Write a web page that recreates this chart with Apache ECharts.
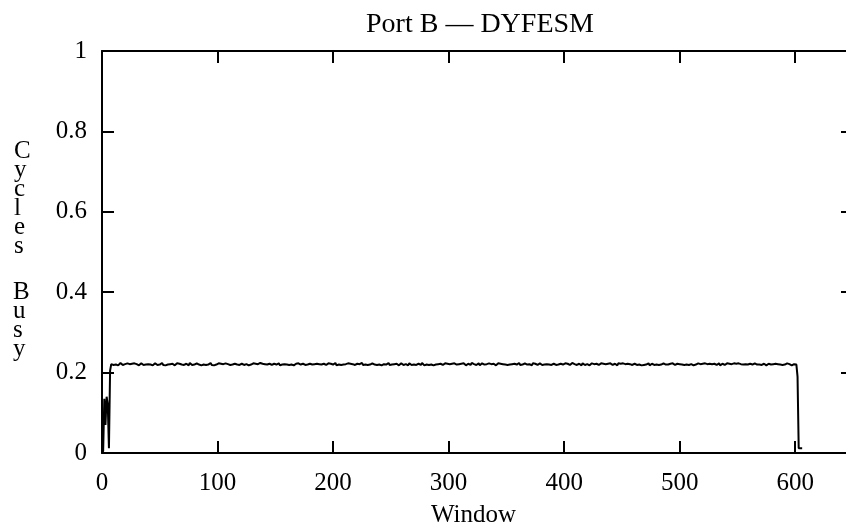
<!DOCTYPE html>
<html>
<head>
<meta charset="utf-8">
<script src="https://cdn.jsdelivr.net/npm/echarts@6/dist/echarts.min.js"></script>
<style>html,body{margin:0;padding:0;background:#fff;}#c{width:846px;height:529px;}</style>
</head>
<body>
<div id="c"></div>
<script>
// Chart text
const titleText = 'Port B \u2014 DYFESM';
const xName = 'Window';
const yNameTop = 'C\ny\nc\nl\ne\ns';
const yNameBottom = 'B\nu\ns\ny';
// Axis ranges / ticks
const xMin = 0, xMax = 650, xStep = 100;
const yMin = 0, yMax = 1, yStep = 0.2;
// First window number; each value below is one consecutive window
const firstWindow = 0;
// Fraction of cycles busy, window by window
const busy = [
0, 0.005, 0.135, 0.07, 0.14, 0.12, 0.012, 0.205, 0.221,
0.221,0.219,0.223,0.220,0.222,0.218,0.221,0.224,0.220,0.219,0.222,0.221,0.218,0.223,0.220,0.221,0.219,0.222,0.220,0.223,
0.219,0.221,0.222,0.218,0.220,0.223,0.221,0.219,0.222,0.220,0.224,0.221,0.219,0.220,0.222,0.218,0.221,0.223,0.220,0.219,
0.222,0.220,0.221,0.224,0.219,0.221,0.218,0.222,0.220,0.223,0.221,0.219,0.222,0.220,0.218,0.221,0.223,0.220,0.222,0.219,
0.220,0.223,0.219,0.221,0.222,0.220,0.218,0.224,0.221,0.219,0.222,0.220,0.221,0.223,0.219,0.220,0.222,0.218,0.221,0.220,
0.223,0.219,0.221,0.220,0.222,0.224,0.219,0.221,0.218,0.222,0.220,0.221,0.223,0.219,0.222,0.220,0.221,0.218,0.223,0.220,
0.221,0.222,0.219,0.223,0.220,0.218,0.222,0.221,0.220,0.224,0.219,0.221,0.222,0.220,0.219,0.223,0.221,0.220,0.218,0.222,
0.220,0.221,0.223,0.219,0.222,0.220,0.221,0.218,0.224,0.220,0.222,0.219,0.221,0.223,0.220,0.218,0.222,0.221,0.219,0.220,
0.222,0.219,0.220,0.221,0.223,0.218,0.222,0.220,0.219,0.221,0.224,0.220,0.222,0.219,0.221,0.220,0.223,0.218,0.221,0.222,
0.219,0.223,0.221,0.220,0.218,0.222,0.221,0.219,0.223,0.220,0.221,0.222,0.218,0.220,0.224,0.221,0.219,0.222,0.220,0.221,
0.223,0.220,0.218,0.222,0.221,0.219,0.220,0.223,0.221,0.222,0.219,0.220,0.221,0.224,0.218,0.222,0.220,0.221,0.219,0.223,
0.220,0.222,0.221,0.219,0.223,0.220,0.222,0.218,0.221,0.220,0.219,0.223,0.222,0.220,0.221,0.218,0.224,0.219,0.221,0.220,
0.221,0.219,0.222,0.220,0.218,0.223,0.221,0.220,0.222,0.219,0.221,0.220,0.223,0.218,0.222,0.221,0.219,0.220,0.222,0.224,
0.219,0.221,0.220,0.223,0.221,0.219,0.222,0.220,0.218,0.221,0.223,0.220,0.219,0.222,0.221,0.220,0.218,0.223,0.221,0.219,
0.222,0.220,0.223,0.219,0.221,0.222,0.220,0.219,0.224,0.221,0.218,0.222,0.220,0.221,0.219,0.223,0.220,0.222,0.218,0.221,
0.220,0.223,0.221,0.218,0.222,0.220,0.219,0.221,0.223,0.220,0.222,0.219,0.221,0.220,0.222,0.218,0.223,0.221,0.220,0.219,
0.221,0.220,0.222,0.219,0.223,0.221,0.218,0.220,0.222,0.221,0.219,0.224,0.220,0.221,0.222,0.219,0.220,0.223,0.218,0.221,
0.223,0.219,0.220,0.222,0.221,0.218,0.223,0.220,0.221,0.219,0.222,0.220,0.218,0.221,0.223,0.220,0.222,0.219,0.221,0.220,
0.220,0.222,0.219,0.221,0.220,0.223,0.221,0.219,0.222,0.218,0.220,0.221,0.224,0.219,0.222,0.220,0.221,0.223,0.219,0.220,
0.222,0.221,0.220,0.218,0.223,0.220,0.222,0.221,0.219,0.220,0.223,0.221,0.219,0.222,0.220,0.218,0.221,0.222,0.220,0.223,
0.219,0.220,0.222,0.221,0.219,0.223,0.220,0.218,0.222,0.221,0.220,0.219,0.223,0.221,0.222,0.220,0.219,0.221,0.224,0.220,
0.221,0.223,0.219,0.220,0.222,0.221,0.218,0.223,0.220,0.219,0.222,0.221,0.220,0.218,0.222,0.223,0.219,0.221,0.220,0.222,
0.220,0.219,0.221,0.223,0.220,0.222,0.219,0.221,0.218,0.222,0.220,0.223,0.221,0.219,0.220,0.222,0.221,0.218,0.223,0.220,
0.222,0.220,0.223,0.219,0.221,0.220,0.222,0.218,0.221,0.224,0.219,0.220,0.222,0.221,0.219,0.223,0.220,0.221,0.218,0.222,
0.219,0.222,0.220,0.221,0.223,0.218,0.220,0.222,0.221,0.219,0.223,0.220,0.222,0.219,0.221,0.220,0.218,0.223,0.221,0.220,
0.221,0.220,0.219,0.222,0.220,0.223,0.221,0.219,0.220,0.222,0.218,0.221,0.223,0.220,0.222,0.219,0.221,0.220,0.224,0.219,
0.223,0.221,0.220,0.218,0.222,0.220,0.221,0.223,0.219,0.221,0.220,0.222,0.219,0.223,0.220,0.221,0.218,0.222,0.220,0.221,
0.220,0.222,0.221,0.219,0.220,0.223,0.218,0.221,0.222,0.220,0.219,0.221,0.223,0.220,0.222,0.218,0.221,0.220,0.223,0.219,
0.222,0.219,0.223,0.220,0.221,0.222,0.220,0.219,0.221,0.223,0.220,0.218,0.222,0.221,0.220,0.219,0.223,0.221,0.220,0.222,
0.220,0.221,0.219,0.223,0.222,0.220,0.218,0.221,0.222,0.219,0.220,0.223,0.221,0.220,0.222,0.219,0.221,0.224,0.220,0.219,
0.219,0.221,0.220,0.222,0.223,0.219,0.221,0.220,0.218,0.222,0.221,0.223,0.220,
0.19, 0.012, 0.012, 0.012, 0.012
];

const serif = '"Liberation Serif", "DejaVu Serif", serif';
const pts = busy.map((v, i) => [firstWindow + i, v]);

const chart = echarts.init(document.getElementById('c'), null, {renderer: 'canvas'});
const axisLine = {show: true, onZero: false, lineStyle: {color: '#000', width: 2}};
const tick = {show: true, inside: true, length: 12, lineStyle: {color: '#000', width: 2}};
chart.setOption({
  animation: false,
  backgroundColor: '#fff',
  title: {
    text: titleText, left: 475, top: 6, textAlign: 'center',
    textStyle: {fontFamily: serif, fontSize: 28, fontWeight: 'normal', color: '#000'}
  },
  graphic: [
    {type: 'text', left: 14, top: 139, style: {text: yNameTop, fontFamily: serif, fontSize: 25, lineHeight: 19, fill: '#000', align: 'center'}},
    {type: 'text', left: 13, top: 280, style: {text: yNameBottom, fontFamily: serif, fontSize: 25, lineHeight: 19, fill: '#000', align: 'center'}}
  ],
  grid: {left: 102, top: 51, width: 751, height: 402, containLabel: false, outerBoundsMode: 'none'},
  xAxis: [{
    type: 'value', min: xMin, max: xMax, interval: xStep, position: 'bottom',
    name: xName, nameLocation: 'middle', nameGap: 50,
    nameTextStyle: {fontFamily: serif, fontSize: 25, color: '#000', padding: [0, 0, 0, -8]},
    axisLine: axisLine, axisTick: tick, splitLine: {show: false},
    axisLabel: {fontFamily: serif, fontSize: 25, color: '#000', margin: 18, showMaxLabel: false}
  }, {
    type: 'value', min: xMin, max: xMax, interval: xStep, position: 'top',
    axisLine: axisLine, axisTick: tick, splitLine: {show: false}, axisLabel: {show: false}
  }],
  yAxis: [{
    type: 'value', min: yMin, max: yMax, interval: yStep, position: 'left',
    axisLine: axisLine, axisTick: tick, splitLine: {show: false},
    axisLabel: {fontFamily: serif, fontSize: 25, color: '#000', margin: 15,
      formatter: v => (Math.round(v * 10) / 10).toString()}
  }, {
    type: 'value', min: yMin, max: yMax, interval: yStep, position: 'right',
    axisLine: axisLine, axisTick: tick, splitLine: {show: false}, axisLabel: {show: false}
  }],
  series: [{
    type: 'line', xAxisIndex: 0, yAxisIndex: 0, data: pts,
    showSymbol: false, symbol: 'none',
    lineStyle: {color: '#000', width: 2}
  }]
});
</script>
</body>
</html>
